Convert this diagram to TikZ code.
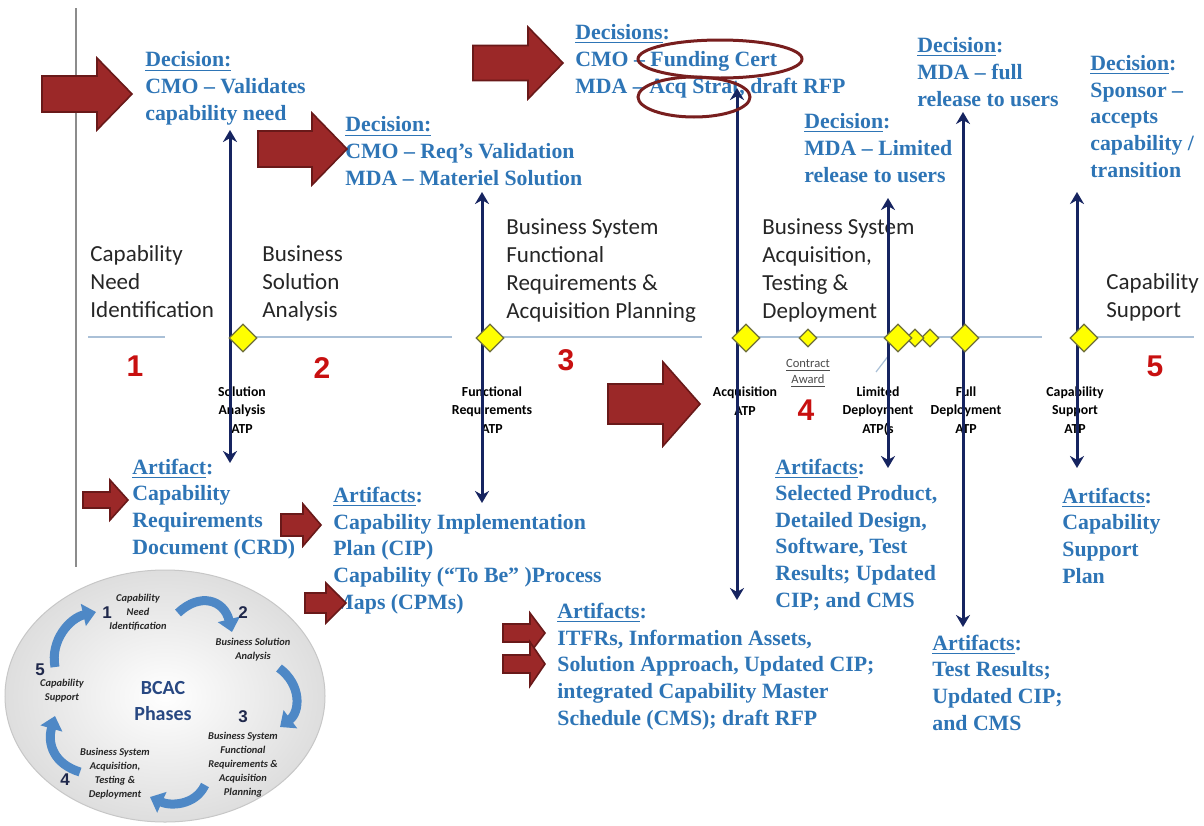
\documentclass[tikz,border=0pt]{standalone}
\usepackage{fontspec}
\setmainfont{Liberation Serif}
\newfontfamily\calfont{Carlito}
\newfontfamily\arialfont{Liberation Sans}
\usetikzlibrary{shapes.geometric,arrows.meta}

\definecolor{bluetxt}{RGB}{46,117,182}
\definecolor{navy}{RGB}{22,36,96}
\definecolor{arrowred}{RGB}{155,40,40}
\definecolor{arrowedge}{RGB}{105,25,25}
\definecolor{ringred}{RGB}{120,30,30}
\definecolor{tline}{RGB}{170,192,215}
\definecolor{dfill}{RGB}{255,255,0}
\definecolor{dedge}{RGB}{110,110,60}
\definecolor{numred}{RGB}{200,16,16}
\definecolor{circblue}{RGB}{78,136,198}
\definecolor{darknavy}{RGB}{31,40,75}
\definecolor{bcac}{RGB}{40,72,130}

% block arrow: tail x, centre y, tip x, head base x, body half height, head half height
\newcommand\redarrow[6]{%
  \draw[redarr] ({#1},{#2-#5}) -- ({#4},{#2-#5}) -- ({#4},{#2-#6}) -- ({#3},{#2})
    -- ({#4},{#2+#6}) -- ({#4},{#2+#5}) -- ({#1},{#2+#5}) -- cycle;}

% multi-line nodes are placed by the baseline of their last line
\tikzset{
  btxt/.style={text=bluetxt,font=\bfseries\fontsize{10.9}{13.3}\selectfont,align=left,anchor=base west,inner sep=0pt},
  phase/.style={text=black!85,font=\calfont\fontsize{11.5}{14}\selectfont,align=left,anchor=base west,inner sep=0pt},
  atp/.style={text=black,font=\calfont\bfseries\fontsize{6.9}{9.2}\selectfont,align=center,anchor=base,inner sep=0pt},
  award/.style={text=black!70,font=\calfont\fontsize{6.3}{7.6}\selectfont,align=center,anchor=base,inner sep=0pt},
  bignum/.style={text=numred,font=\arialfont\bfseries\fontsize{15}{15}\selectfont,inner sep=0pt},
  vline/.style={draw=navy,line width=1.5pt},
  bothtip/.style={{Stealth[length=6pt,width=7pt]}-{Stealth[length=6pt,width=7pt]}},
  gate/.style={diamond,draw=dedge,fill=dfill,line width=0.6pt,inner sep=0pt,minimum width=14pt,minimum height=14pt},
  smallgate/.style={gate,minimum width=9pt,minimum height=9pt},
  tl/.style={draw=tline,line width=1pt},
  redarr/.style={fill=arrowred,draw=arrowedge,line width=0.8pt,line join=miter},
  ring/.style={draw=ringred,line width=1.5pt},
  cycarrow/.style={draw=circblue,line width=4.5pt,-{Triangle[width=11pt,length=6.5pt]}},
  ctxt/.style={text=black!85,font=\calfont\bfseries\itshape\fontsize{5.2}{7}\selectfont,align=center,anchor=base,inner sep=0pt},
  cnum/.style={text=darknavy,font=\arialfont\bfseries\fontsize{8.5}{8.5}\selectfont,inner sep=0pt},
}

\begin{document}
\begin{tikzpicture}[x=0.5pt,y=-0.5pt]
\useasboundingbox (0,0) rectangle (1204,825);
\fill[white] (0,0) rectangle (1204,825);

% left margin rule
\draw[black!45,line width=0.6pt] (76,8) -- (76,567);

% timeline
\draw[tl] (88,337) -- (165,337);
\draw[tl] (242,337) -- (452,337);
\draw[tl] (490,337) -- (702,337);
\draw[tl] (746,337) -- (1042,337);
\draw[tl] (1084,337) -- (1194,337);
\draw[tline,line width=0.6pt] (876,372) -- (889,355);

% phase titles
\node[phase] (ph1) at (90,317) {Capability\\Need\\Identification};
\node[phase] (ph2) at (262,317) {Business\\Solution\\Analysis};
\node[phase] (ph3) at (506,318) {Business System\\Functional\\Requirements \&\\Acquisition Planning};
\node[phase] (ph4) at (762,318) {Business System\\Acquisition,\\Testing \&\\Deployment};
\node[phase] (ph5) at (1106,317) {Capability\\Support};

% phase numbers
\node[bignum] (n1) at (135,366) {1};
\node[bignum] (n2) at (322,368) {2};
\node[bignum] (n3) at (566,360) {3};
\node[bignum] (n4) at (806,410) {4};
\node[bignum] (n5) at (1155,366) {5};

% milestone labels
\node[atp] (l1) at (242,433) {Solution\\Analysis\\ATP};
\node[atp] (l2) at (492,433) {Functional\\Requirements\\ATP};
\node[atp] (l3) at (745,415) {Acquisition\\ATP};
\node[award] (l4) at (808,383) {\underline{Contract}\\\underline{Award}};
\node[atp] (l5) at (878,433) {Limited\\Deployment\\ATP(s};
\node[atp] (l6) at (966,433) {Full\\Deployment\\ATP};
\node[atp] (l7) at (1075,433) {Capability\\Support\\ATP};

% decisions
\node[btxt] (d1) at (145,120) {\underline{Decision:}\\CMO – Validates\\capability need};
\node[btxt] (d2) at (345,185) {\underline{Decision:}\\CMO – Req’s Validation\\MDA – Materiel Solution};
\node[btxt] (d3) at (575,93) {\underline{Decisions}:\\CMO – Funding Cert\\MDA – Acq Strat, draft RFP};
\node[btxt] (d4) at (917,106) {\underline{Decision}:\\MDA – full\\release to users};
\node[btxt] (d5) at (804,182) {\underline{Decision}:\\MDA – Limited\\release to users};
\node[btxt] (d6) at (1090,177) {\underline{Decision}:\\Sponsor –\\accepts\\capability /\\transition};

% artifacts
\node[btxt] (a1) at (132,554) {\underline{Artifact}:\\Capability\\Requirements\\Document (CRD)};
\node[btxt] (a2) at (333,609) {\underline{Artifacts}:\\Capability Implementation\\Plan (CIP)\\Capability (“To Be” )Process\\Maps (CPMs)};
\node[btxt] (a3) at (557,725) {\underline{Artifacts}:\\ITFRs, Information Assets,\\Solution Approach, Updated CIP;\\integrated Capability Master\\Schedule (CMS); draft RFP};
\node[btxt] (a4) at (775,607) {\underline{Artifacts}:\\Selected Product,\\Detailed Design,\\Software, Test\\Results; Updated\\CIP; and CMS};
\node[btxt] (a5) at (932,730) {\underline{Artifacts}:\\Test Results;\\Updated CIP;\\and CMS};
\node[btxt] (a6) at (1062,583) {\underline{Artifacts}:\\Capability\\Support\\Plan};

% decision / artifact links of each milestone
\coordinate (v1t) at (230,130); \coordinate (v1b) at (230,463);
\coordinate (v2t) at (482,192); \coordinate (v2b) at (482,503);
\coordinate (v3t) at (737,88);  \coordinate (v3b) at (737,600);
\coordinate (v4t) at (888,198); \coordinate (v4b) at (888,468);
\coordinate (v5t) at (963,112); \coordinate (v5b) at (963,627);
\coordinate (v6t) at (1077,192); \coordinate (v6b) at (1077,468);
\draw[vline,bothtip] (v1b) -- (v1t);
\draw[vline,bothtip] (v2b) -- (v2t);
\draw[vline,bothtip] (v3b) -- (v3t);
\draw[vline,bothtip] (v4b) -- (v4t);
\draw[vline,bothtip] (v5b) -- (v5t);
\draw[vline,bothtip] (v6b) -- (v6t);

% milestone gates
\node[gate] (g1) at (243,338) {};
\node[gate] (g2) at (490,338) {};
\node[gate] (g3) at (746,338) {};
\node[smallgate] (g4) at (808,338) {};
\node[smallgate] (g6) at (930,338) {};
\node[smallgate] (g7) at (915,338) {};
\node[gate] (g5) at (898,338) {};
\node[gate] (g8) at (965,338) {};
\node[gate] (g9) at (1084,338) {};

% emphasis arrows
\redarrow{42}{94}{132}{97}{18}{36}
\redarrow{258}{149}{347}{312}{18}{36}
\redarrow{473}{63}{563}{528}{17.5}{36}
\redarrow{608}{404}{700}{663}{20}{42}
\redarrow{83}{500}{128}{110}{8}{20}
\redarrow{281}{525}{321}{303}{11}{21}
\redarrow{305}{603}{346}{326}{10}{20}
\redarrow{503}{633}{545}{530}{9}{20}
\redarrow{503}{664}{545}{530}{9}{22}

% highlighted decisions
\draw[ring] (720,59) ellipse [x radius=41pt,y radius=9.5pt];
\draw[ring] (694,97) ellipse [x radius=28pt,y radius=10pt];

% BCAC phase cycle
\shade[inner color=white,outer color=black!13] (165,696) ellipse [x radius=80pt,y radius=63pt];
\draw[black!22,line width=0.5pt] (165,696) ellipse [x radius=80pt,y radius=63pt];
\draw[cycarrow] (178,613) .. controls (200,592) and (224,600) .. (232,632);
\draw[cycarrow] (279,668) .. controls (302,685) and (300,712) .. (280,727);
\draw[cycarrow] (205,785) .. controls (195,806) and (170,806) .. (150,797);
\draw[cycarrow] (80,772) .. controls (54,764) and (47,744) .. (55,716);
\draw[cycarrow] (55,667) .. controls (50,640) and (70,618) .. (96,612);

\node[cnum] (c1) at (107,613) {1};
\node[cnum] (c2) at (243,613) {2};
\node[cnum] (c3) at (243,717) {3};
\node[cnum] (c4) at (65,780) {4};
\node[cnum] (c5) at (40,670) {5};
\node[ctxt] (ct1) at (138,629) {Capability\\Need\\Identification};
\node[ctxt] (ct2) at (253,659) {Business Solution\\Analysis};
\node[ctxt] (ct3) at (243,795) {Business System\\Functional\\Requirements \&\\Acquisition\\Planning};
\node[ctxt] (ct4) at (115,797) {Business System\\Acquisition,\\Testing \&\\Deployment};
\node[ctxt] (ct5) at (62,700) {Capability\\Support};
\node[text=bcac,font=\calfont\bfseries\fontsize{10}{13}\selectfont,align=center,anchor=base,inner sep=0pt] (bcac) at (163,720) {BCAC\\Phases};
\end{tikzpicture}
\end{document}
